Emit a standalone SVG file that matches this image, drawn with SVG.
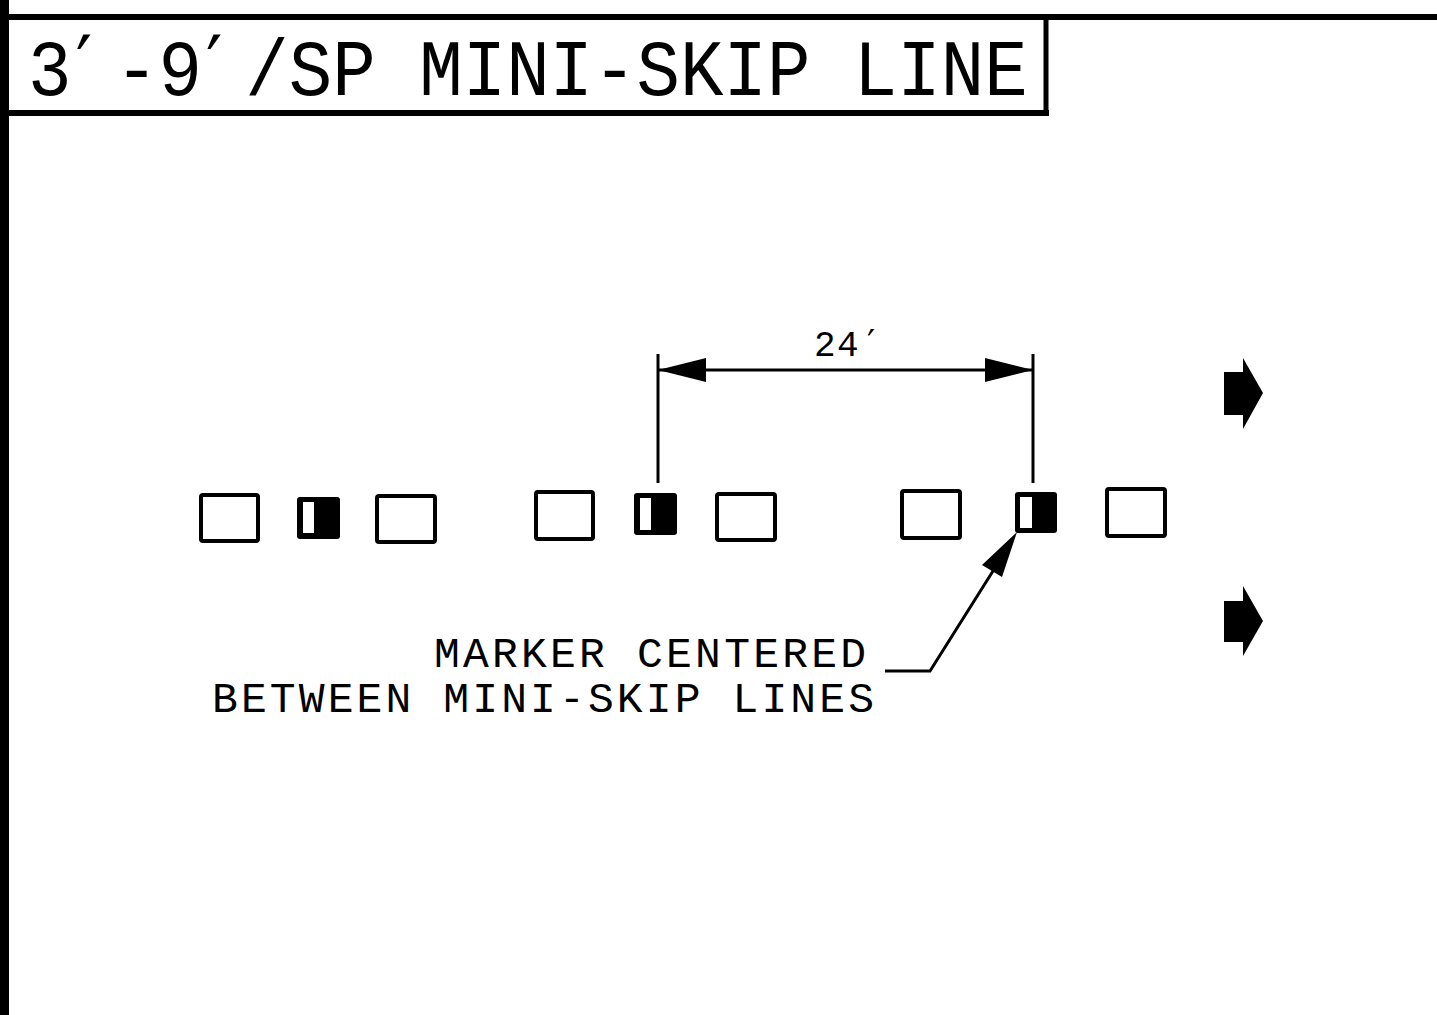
<svg xmlns="http://www.w3.org/2000/svg" width="1437" height="1015" viewBox="0 0 1437 1015">
<style>
.txt{font-family:"Liberation Mono","DejaVu Sans Mono",monospace;fill:#000}
.pr{font-family:"DejaVu Sans",sans-serif}
.box{fill:#fff;stroke:#000;stroke-width:4}
.mk{fill:#000}
.mkw{fill:#fff}
.ln{stroke:#000;stroke-width:3;fill:none}
.frame{stroke:#000;fill:none}
</style>
<defs>
<marker id="ah" viewBox="0 0 48 24" refX="48" refY="12" markerWidth="48" markerHeight="24" markerUnits="userSpaceOnUse" orient="auto-start-reverse">
<path d="M0,0 L48,12 L0,24 Z" fill="#000"/>
</marker>
</defs>
<rect width="1437" height="1015" fill="#fff"/>
<g id="frame">
<rect x="0" y="0" width="9" height="1015" fill="#000"/>
<line class="frame" x1="0" y1="17" x2="1437" y2="17" stroke-width="6"/>
<line class="frame" x1="0" y1="113" x2="1049" y2="113" stroke-width="6"/>
<line class="frame" x1="1046" y1="14" x2="1046" y2="116" stroke-width="5"/>
</g>
<g id="title">
<text class="txt" transform="translate(28,95) scale(0.917,1)" x="0" y="0" font-size="79"><tspan x="0" y="0">3</tspan><tspan class="pr" x="52" y="-3">′</tspan><tspan x="94.8" y="0">-9</tspan><tspan class="pr" x="194" y="-3">′</tspan><tspan x="237" y="0">/SP MINI-SKIP LINE</tspan></text>
</g>
<g id="row1">
<rect id="line1a" class="box" x="201" y="495" width="57" height="46" rx="2"/>
<g id="marker1"><rect class="mk" x="297" y="497" width="43" height="42" rx="3"/><rect class="mkw" x="303" y="502" width="11" height="31"/></g>
<rect id="line1b" class="box" x="377" y="496" width="58" height="46" rx="2"/>
</g>
<g id="row2">
<rect id="line2a" class="box" x="536" y="492" width="57" height="47" rx="2"/>
<g id="marker2"><rect class="mk" x="634" y="493" width="43" height="42" rx="3"/><rect class="mkw" x="640" y="498" width="11" height="32"/></g>
<rect id="line2b" class="box" x="717" y="494" width="58" height="46" rx="2"/>
</g>
<g id="row3">
<rect id="line3a" class="box" x="902" y="491" width="58" height="47" rx="2"/>
<g id="marker3"><rect class="mk" x="1015" y="492" width="42" height="41" rx="3"/><rect class="mkw" x="1020" y="497" width="12" height="31"/></g>
<rect id="line3b" class="box" x="1107" y="489" width="58" height="47" rx="2"/>
</g>
<g id="direction-arrows">
<path id="arrow1" d="M1224,372 L1243,372 L1243,358 L1263,393 L1243,429 L1243,415 L1224,415 Z" fill="#000"/>
<path id="arrow2" d="M1224,601 L1243,601 L1243,586 L1263,621 L1243,656 L1243,642 L1224,642 Z" fill="#000"/>
</g>
<g id="connectors">
<line class="ln" x1="658" y1="354" x2="658" y2="483"/>
<line class="ln" x1="1033" y1="354" x2="1033" y2="483"/>
<line class="ln" x1="658" y1="370" x2="1033" y2="370" marker-start="url(#ah)" marker-end="url(#ah)"/>
<polyline class="ln" points="885,671 930,671 1010,544"/>
<path d="M1017,532 L982,565 L1002,577 Z" fill="#000"/>
</g>
<g id="labels">
<text class="txt" x="814" y="356" font-size="36" letter-spacing="1.4">24<tspan class="pr" x="867" y="355">′</tspan></text>
<text class="txt" x="434" y="667" font-size="43" textLength="432" lengthAdjust="spacing">MARKER CENTERED</text>
<text class="txt" x="212" y="712" font-size="43" textLength="662" lengthAdjust="spacing">BETWEEN MINI-SKIP LINES</text>
</g>
</svg>
